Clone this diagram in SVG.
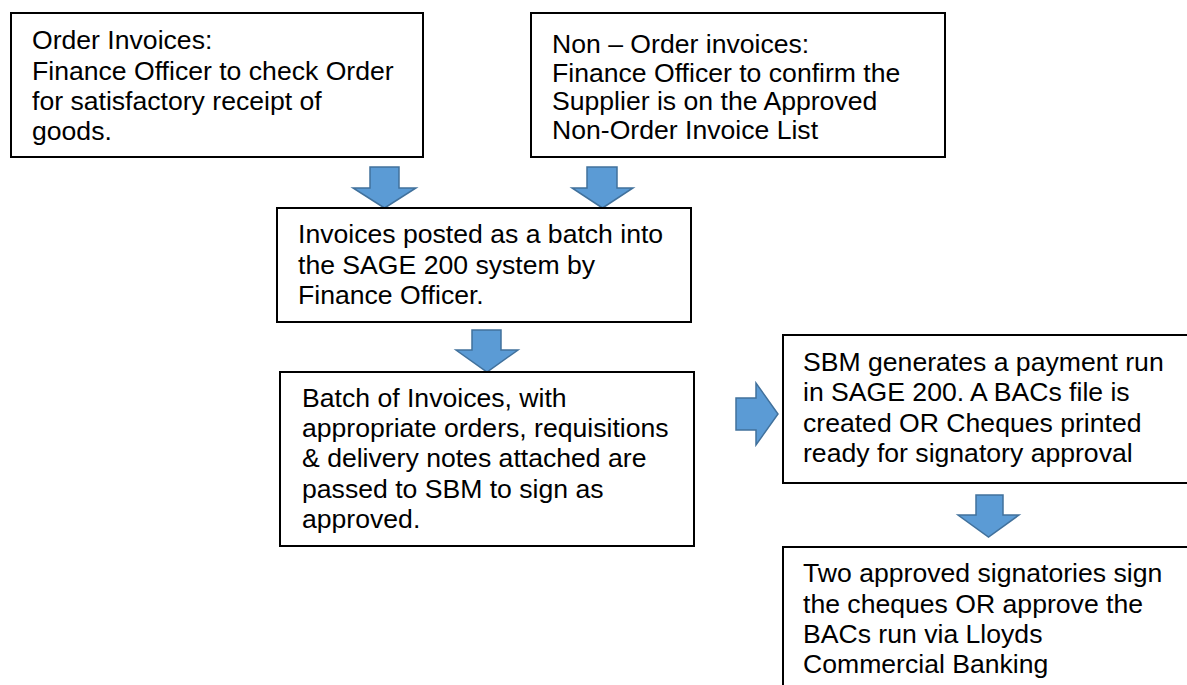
<svg xmlns="http://www.w3.org/2000/svg" width="1187" height="685" viewBox="0 0 1187 685">
  <style>
    .box { fill: #ffffff; stroke: #000000; stroke-width: 2; }
    .txt { font-family: "Liberation Sans", Arial, sans-serif; font-size: 26.6px; fill: #000000; }
    .arrow { fill: #5B9BD5; stroke: #41719C; stroke-width: 1.5; stroke-linejoin: miter; }
  </style>
  <rect width="1187" height="685" fill="#ffffff"/>

  <!-- block arrows between the steps -->
  <g id="connectors">
    <polygon class="arrow" points="370,167 399,167 399,188 416,188 384.5,208 353,188 370,188"/>
    <polygon class="arrow" points="587,167 617,167 617,188 633,188 602.5,208 572,188 587,188"/>
    <polygon class="arrow" points="472,330 501,330 501,350 518,350 487,372 456,350 472,350"/>
    <polygon class="arrow" points="736,398 756,398 756,383 778,414 756,445 756,430 736,430"/>
    <polygon class="arrow" points="976,495 1003,495 1003,515 1019,515 988.5,537 958,515 976,515"/>
  </g>

  <g id="order-invoices">
    <rect class="box" x="11" y="13" width="412" height="144"/>
    <text class="txt" x="32" y="49">
      <tspan x="32" y="49">Order Invoices:</tspan>
      <tspan x="32" y="79.5">Finance Officer to check Order</tspan>
      <tspan x="32" y="110">for satisfactory receipt of</tspan>
      <tspan x="32" y="140">goods.</tspan>
    </text>
  </g>

  <g id="non-order-invoices">
    <rect class="box" x="531" y="13" width="414" height="144"/>
    <text class="txt">
      <tspan x="552" y="53">Non – Order invoices:</tspan>
      <tspan x="552" y="81.5">Finance Officer to confirm the</tspan>
      <tspan x="552" y="110">Supplier is on the Approved</tspan>
      <tspan x="552" y="138.5">Non-Order Invoice List</tspan>
    </text>
  </g>

  <g id="post-batch">
    <rect class="box" x="277" y="208" width="414" height="114"/>
    <text class="txt">
      <tspan x="298" y="243">Invoices posted as a batch into</tspan>
      <tspan x="298" y="274">the SAGE 200 system by</tspan>
      <tspan x="298" y="304">Finance Officer.</tspan>
    </text>
  </g>

  <g id="batch-to-sbm">
    <rect class="box" x="280" y="372" width="414" height="174" stroke-width="1.5"/>
    <text class="txt">
      <tspan x="302" y="407">Batch of Invoices, with</tspan>
      <tspan x="302" y="437">appropriate orders, requisitions</tspan>
      <tspan x="302" y="467">&amp; delivery notes attached are</tspan>
      <tspan x="302" y="497.5">passed to SBM to sign as</tspan>
      <tspan x="302" y="528">approved.</tspan>
    </text>
  </g>

  <g id="payment-run">
    <rect class="box" x="783" y="335" width="410" height="148"/>
    <text class="txt">
      <tspan x="803" y="370.5">SBM generates a payment run</tspan>
      <tspan x="803" y="400.5">in SAGE 200. A BACs file is</tspan>
      <tspan x="803" y="431.5">created OR Cheques printed</tspan>
      <tspan x="803" y="461.5">ready for signatory approval</tspan>
    </text>
  </g>

  <g id="signatories">
    <rect class="box" x="783" y="547" width="410" height="150" stroke-width="1.5"/>
    <text class="txt">
      <tspan x="803" y="582">Two approved signatories sign</tspan>
      <tspan x="803" y="612.5">the cheques OR approve the</tspan>
      <tspan x="803" y="642.5">BACs run via Lloyds</tspan>
      <tspan x="803" y="673">Commercial Banking</tspan>
    </text>
  </g>
</svg>
